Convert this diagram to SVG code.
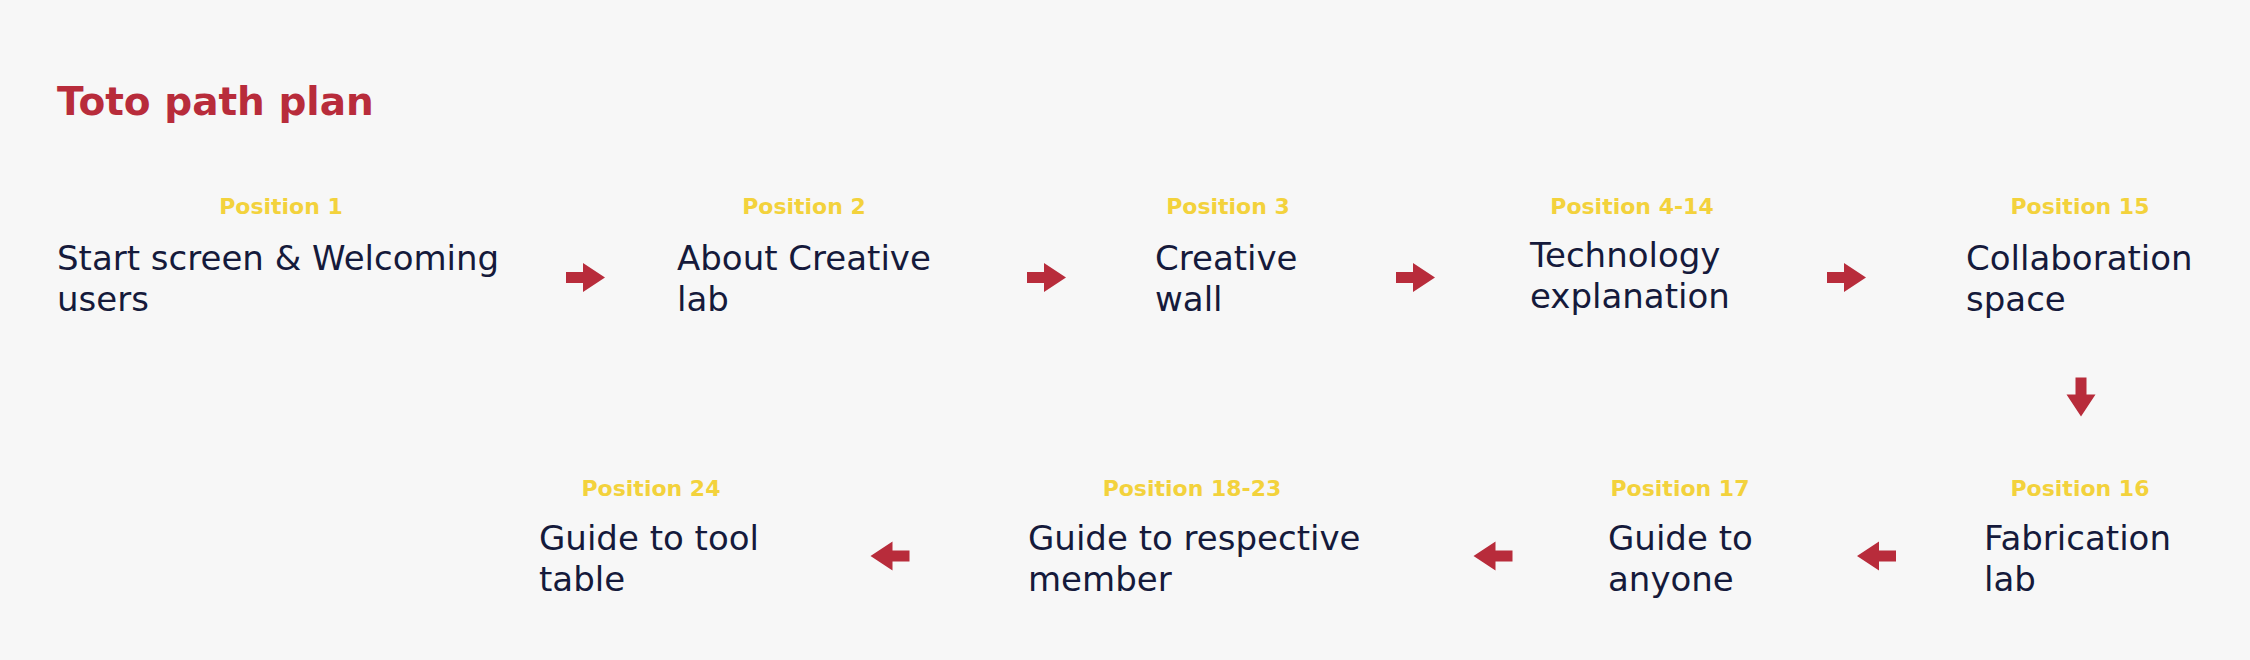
<svg xmlns="http://www.w3.org/2000/svg" xmlns:xlink="http://www.w3.org/1999/xlink" width="2250" height="660" viewBox="0 0 2250 660">
<style>
.title{font-family:"DejaVu Sans","Liberation Sans",sans-serif;font-weight:bold;font-size:39px;fill:#b82c3b}
.pos{font-family:"DejaVu Sans","Liberation Sans",sans-serif;font-weight:bold;font-size:22px;fill:#f3d23c;text-anchor:middle}
.txt{font-family:"DejaVu Sans","Liberation Sans",sans-serif;font-size:34px;fill:#151a3b}
.arr{fill:#b82c3b}
</style>
<defs>
<path id="arrow" d="M-19.5,-5.5 H-2.5 V-14.5 L19.5,0 L-2.5,14.5 V5.5 H-19.5 Z"/>
</defs>
<rect width="2250" height="660" fill="#f7f7f7"/>
<text class="title" x="57" y="115">Toto path plan</text>

<g id="node1"><text class="pos" x="281" y="214">Position 1</text><text class="txt" x="57" y="270">Start screen &amp; Welcoming</text><text class="txt" x="57" y="311">users</text></g>
<g id="node2"><text class="pos" x="804" y="214">Position 2</text><text class="txt" x="677" y="270">About Creative</text><text class="txt" x="677" y="311">lab</text></g>
<g id="node3"><text class="pos" x="1228" y="214">Position 3</text><text class="txt" x="1155" y="270">Creative</text><text class="txt" x="1155" y="311">wall</text></g>
<g id="node4"><text class="pos" x="1632" y="214">Position 4-14</text><text class="txt" x="1530" y="267">Technology</text><text class="txt" x="1530" y="308">explanation</text></g>
<g id="node5"><text class="pos" x="2080" y="214">Position 15</text><text class="txt" x="1966" y="270">Collaboration</text><text class="txt" x="1966" y="311">space</text></g>
<g id="node6"><text class="pos" x="2080" y="496">Position 16</text><text class="txt" x="1984" y="550">Fabrication</text><text class="txt" x="1984" y="591">lab</text></g>
<g id="node7"><text class="pos" x="1680" y="496">Position 17</text><text class="txt" x="1608" y="550">Guide to</text><text class="txt" x="1608" y="591">anyone</text></g>
<g id="node8"><text class="pos" x="1192" y="496">Position 18-23</text><text class="txt" x="1028" y="550">Guide to respective</text><text class="txt" x="1028" y="591">member</text></g>
<g id="node9"><text class="pos" x="651" y="496">Position 24</text><text class="txt" x="539" y="550">Guide to tool</text><text class="txt" x="539" y="591">table</text></g>

<g id="connectors" class="arr">
<use xlink:href="#arrow" transform="translate(585.5,277.5)"/>
<use xlink:href="#arrow" transform="translate(1046.5,277.5)"/>
<use xlink:href="#arrow" transform="translate(1415.5,277.5)"/>
<use xlink:href="#arrow" transform="translate(1846.5,277.5)"/>
<use xlink:href="#arrow" transform="translate(2081,397) rotate(90)"/>
<use xlink:href="#arrow" transform="translate(1876.5,556) rotate(180)"/>
<use xlink:href="#arrow" transform="translate(1493,556) rotate(180)"/>
<use xlink:href="#arrow" transform="translate(890,556) rotate(180)"/>
</g>
</svg>
